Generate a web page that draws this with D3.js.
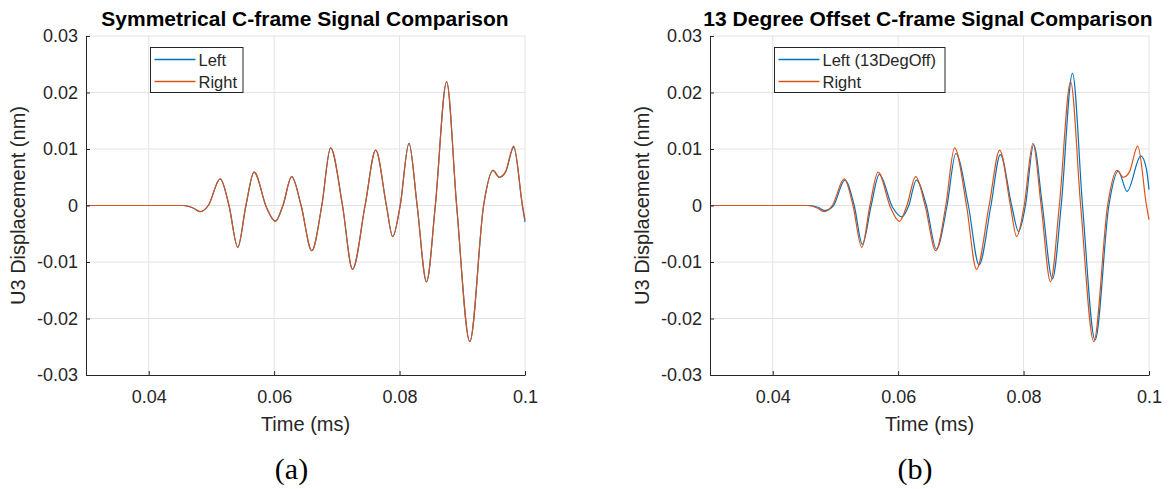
<!DOCTYPE html>
<html>
<head>
<meta charset="utf-8">
<script src="https://cdn.jsdelivr.net/npm/d3@7"></script>
<style>
  html, body { margin: 0; padding: 0; background: #ffffff; }
  svg { display: block; }
</style>
</head>
<body>
<svg id="chart" width="1170" height="489"></svg>
<script>
// ---------------- DATA ----------------
const timeTicks = [0.04, 0.06, 0.08, 0.1];
const dispTicks = [-0.03, -0.02, -0.01, 0, 0.01, 0.02, 0.03];
const timeDomain = [0.03, 0.1];
const dispDomain = [-0.03, 0.03];

const titles = ["Symmetrical C-frame Signal Comparison", "13 Degree Offset C-frame Signal Comparison"];
const captions = ["(a)", "(b)"];
const legendA = ["Left", "Right"];
const legendB = ["Left (13DegOff)", "Right"];
const xLabel = "Time (ms)";
const yLabel = "U3 Displacement (nm)";

// Right signal (same in both panels), time (ms) / displacement (nm)
const rightTime = [0.030, 0.0440, 0.0455, 0.0470, 0.0482, 0.0495, 0.0514, 0.0528, 0.0542, 0.0555,
  0.0568, 0.0588, 0.0602, 0.0614, 0.0628, 0.0643, 0.0660, 0.0676, 0.0690, 0.0709,
  0.0725, 0.0745, 0.0762, 0.0779, 0.0789, 0.0801, 0.0815, 0.0828, 0.0843, 0.0857,
  0.0875, 0.0891, 0.0912, 0.0934, 0.0949, 0.0959, 0.0969, 0.0982, 0.0996, 0.1000];
const rightDisp = [0, 0, 0, -0.0004, -0.0011, 0, 0.0047, 0, -0.0074, 0,
  0.0059, -0.0004, -0.0028, 0, 0.0051, 0, -0.0080, 0, 0.0102, 0,
  -0.0113, 0, 0.0098, 0, -0.0055, 0, 0.0110, 0, -0.0135, 0,
  0.0219, 0, -0.0241, 0, 0.0062, 0.0050, 0.0060, 0.0105, 0, -0.0025];

// Left signal, symmetrical frame (panel a)
const leftSymTime = rightTime;
const leftSymDisp = [0, 0, 0, -0.0004, -0.0011, 0, 0.0047, 0, -0.0074, 0,
  0.0059, -0.0004, -0.0028, 0, 0.0051, 0, -0.0080, 0, 0.0102, 0,
  -0.0113, 0, 0.0098, 0, -0.0055, 0, 0.0110, 0, -0.0135, 0,
  0.0219, 0, -0.0241, 0, 0.0062, 0.0050, 0.0059, 0.0103, -0.0002, -0.0029];

// Left signal, 13 degree offset frame (panel b)
const leftOffTime = [0.030, 0.0444, 0.0459, 0.0472, 0.0483, 0.0497, 0.0515, 0.0530, 0.0543, 0.0557,
  0.0570, 0.0591, 0.0606, 0.0617, 0.0629, 0.0645, 0.0661, 0.0678, 0.0692, 0.0712,
  0.0729, 0.0748, 0.0763, 0.0781, 0.0792, 0.0803, 0.0816, 0.0830, 0.0846, 0.0860,
  0.0878, 0.0894, 0.0914, 0.0936, 0.0951, 0.0965, 0.0987, 0.0996, 0.1000];
const leftOffDisp = [0, 0, 0, -0.0003, -0.0009, 0, 0.0045, 0, -0.0069, 0,
  0.0055, -0.0003, -0.0020, 0, 0.0045, 0, -0.0077, 0, 0.0092, 0,
  -0.0105, 0, 0.0090, 0, -0.0046, 0, 0.0108, 0, -0.0130, 0,
  0.0234, 0, -0.0238, 0, 0.0061, 0.0025, 0.0088, 0.0064, 0.0028];

// ---------------- DRAWING ----------------
const BLUE = "#0072BD", ORANGE = "#D95319", AX = "#262626", GRID = "#e3e3e3";
const FONT = "'Liberation Sans', Arial, Helvetica, sans-serif";
const svg = d3.select("#chart");
svg.append("rect").attr("width", 1170).attr("height", 489).attr("fill", "#fff");

const zip = (t, v) => t.map((d, i) => ({ t: d, v: v[i] }));
const fmt = d => (d === 0 ? "0" : String(+d.toFixed(2)));

function panel(cfg) {
  const x = d3.scaleLinear().domain(timeDomain).range([cfg.x0, cfg.x1]);
  const y = d3.scaleLinear().domain(dispDomain).range([cfg.y1, cfg.y0]);
  const g = svg.append("g");

  // grid
  g.append("g").selectAll("line").data(timeTicks).join("line")
    .attr("x1", d => x(d)).attr("x2", d => x(d))
    .attr("y1", y(dispDomain[0])).attr("y2", y(dispDomain[1]))
    .attr("stroke", GRID).attr("stroke-width", 1);
  g.append("g").selectAll("line").data(dispTicks.filter(d => d > dispDomain[0])).join("line")
    .attr("x1", x(timeDomain[0])).attr("x2", x(timeDomain[1]))
    .attr("y1", d => y(d)).attr("y2", d => y(d))
    .attr("stroke", GRID).attr("stroke-width", 1);

  // lines
  const line = d3.line().x(d => x(d.t)).y(d => y(d.v)).curve(d3.curveMonotoneX);
  g.append("path").datum(zip(cfg.blueT, cfg.blueV)).attr("d", line)
    .attr("fill", "none").attr("stroke", BLUE).attr("stroke-width", 1.2);
  g.append("path").datum(zip(rightTime, rightDisp)).attr("d", line)
    .attr("fill", "none").attr("stroke", ORANGE).attr("stroke-width", 1.2);

  // axes
  const xa = g.append("g").attr("transform", `translate(0,${cfg.y1})`)
    .call(d3.axisBottom(x).tickValues(timeTicks).tickFormat(fmt)
      .tickSizeInner(-4).tickSizeOuter(0).tickPadding(15));
  const ya = g.append("g").attr("transform", `translate(${cfg.x0},0)`)
    .call(d3.axisLeft(y).tickValues(dispTicks).tickFormat(fmt)
      .tickSizeInner(-4).tickSizeOuter(0).tickPadding(8));
  [xa, ya].forEach(a => {
    a.select(".domain").attr("stroke", AX).attr("stroke-width", 1);
    a.selectAll(".tick line").attr("stroke", AX).attr("stroke-width", 1);
    a.selectAll(".tick text").attr("fill", AX).style("font-family", FONT).style("font-size", "18px");
  });

  // labels
  const cx = (cfg.x0 + cfg.x1) / 2, cy = (cfg.y0 + cfg.y1) / 2;
  g.append("text").text(xLabel).attr("x", cx).attr("y", 431)
    .attr("text-anchor", "middle").attr("fill", AX)
    .style("font-family", FONT).style("font-size", "20px");
  g.append("text").text(yLabel)
    .attr("transform", `translate(${cfg.x0 - 61},${cy}) rotate(-90)`)
    .attr("text-anchor", "middle").attr("fill", AX)
    .style("font-family", FONT).style("font-size", "20px");
  g.append("text").text(cfg.title).attr("x", cfg.tx).attr("y", 26)
    .attr("text-anchor", "middle").attr("fill", "#000")
    .style("font-family", FONT).style("font-size", "21px").style("font-weight", "bold");
  g.append("text").text(cfg.caption).attr("x", cfg.capX).attr("y", 479)
    .attr("text-anchor", "middle").attr("fill", "#000")
    .style("font-family", "'Liberation Serif', 'Times New Roman', serif").style("font-size", "30px");

  // legend
  const lg = g.append("g");
  lg.append("rect").attr("x", cfg.lx).attr("y", 47.5).attr("width", cfg.lw).attr("height", 45)
    .attr("fill", "#fff").attr("stroke", AX).attr("stroke-width", 1);
  [BLUE, ORANGE].forEach((c, i) => {
    const ly = 59.5 + i * 22;
    lg.append("line").attr("x1", cfg.lx + 4).attr("x2", cfg.lx + 45)
      .attr("y1", ly).attr("y2", ly).style("stroke", c).style("stroke-width", "1.5px");
    lg.append("text").text(cfg.legend[i]).attr("x", cfg.lx + 48).attr("y", ly + 6.5)
      .attr("fill", AX).style("font-family", FONT).style("font-size", "16.5px");
  });
}

panel({ x0: 86, x1: 525, y0: 36, y1: 375, title: titles[0], caption: captions[0], capX: 291.5, tx: 305,
  legend: legendA, lx: 150.5, lw: 92.5, blueT: leftSymTime, blueV: leftSymDisp });
panel({ x0: 710, x1: 1149, y0: 36, y1: 375, title: titles[1], caption: captions[1], capX: 915, tx: 928,
  legend: legendB, lx: 774.5, lw: 170.5, blueT: leftOffTime, blueV: leftOffDisp });
</script>
</body>
</html>
